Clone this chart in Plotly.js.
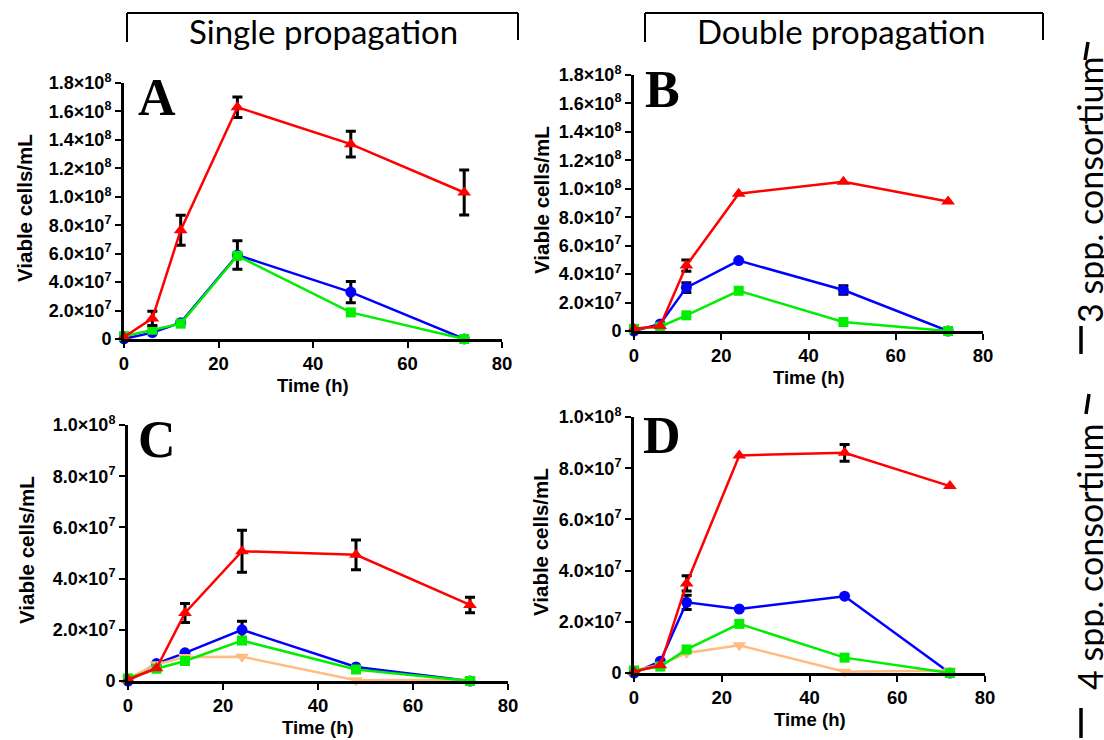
<!DOCTYPE html>
<html>
<head>
<meta charset="utf-8">
<script src="https://cdn.plot.ly/plotly-3.0.1.min.js"></script>
<style>
  html, body { margin: 0; padding: 0; background: #fff; }
  #chart { width: 1104px; height: 740px; }
</style>
</head>
<body>
<div id="chart"></div>
<script>
// Sampling times (h)
const times = [0, 6, 12, 24, 48, 72];

// Y-axis tick values and labels
const tickValsTall = [0, 2e7, 4e7, 6e7, 8e7, 1e8, 1.2e8, 1.4e8, 1.6e8, 1.8e8];
const tickTextTall = ['0', '2.0×10<sup>7</sup>', '4.0×10<sup>7</sup>', '6.0×10<sup>7</sup>',
  '8.0×10<sup>7</sup>', '1.0×10<sup>8</sup>', '1.2×10<sup>8</sup>', '1.4×10<sup>8</sup>',
  '1.6×10<sup>8</sup>', '1.8×10<sup>8</sup>'];
const tickValsShort = [0, 2e7, 4e7, 6e7, 8e7, 1e8];
const tickTextShort = ['0', '2.0×10<sup>7</sup>', '4.0×10<sup>7</sup>', '6.0×10<sup>7</sup>',
  '8.0×10<sup>7</sup>', '1.0×10<sup>8</sup>'];
const xTickVals = [0, 20, 40, 60, 80];

// A: 3 spp., single propagation
const blueA  = [0.01e7, 0.45e7, 1.15e7, 5.9e7, 3.3e7, 0.005e7];
const blueAErr = [null, null, null, 1.0e7, 0.75e7, null];
const greenA = [0.2e7, 0.65e7, 1.08e7, 5.85e7, 1.87e7, 0];
const redA   = [0.15e7, 1.45e7, 7.65e7, 16.3e7, 13.7e7, 10.3e7];
const redAErr = [null, 0.5e7, 1.05e7, 0.72e7, 0.9e7, 1.58e7];

// B: 3 spp., double propagation
const blueB  = [0, 0.5e7, 3.05e7, 4.95e7, 2.88e7, 0];
const blueBErr = [null, null, 0.35e7, null, 0.3e7, null];
const greenB = [0.15e7, 0.3e7, 1.1e7, 2.83e7, 0.63e7, 0];
const redB   = [0.15e7, 0.35e7, 4.6e7, 9.65e7, 10.5e7, 9.1e7];
const redBErr = [null, null, 0.4e7, null, null, null];

// C: 4 spp., single propagation
const blueC   = [0, 0.68e7, 1.1e7, 2.0e7, 0.55e7, 0];
const blueCErr = [null, null, null, 0.33e7, null, null];
const greenC  = [0.1e7, 0.48e7, 0.78e7, 1.58e7, 0.45e7, 0];
const orangeC = [0.1e7, 0.65e7, 0.94e7, 0.95e7, 0.03e7, 0.05e7];
const redC    = [0.05e7, 0.5e7, 2.66e7, 5.07e7, 4.93e7, 2.97e7];
const redCErr = [null, null, 0.37e7, 0.82e7, 0.58e7, 0.3e7];

// D: 4 spp., double propagation
const blueD   = [0, 0.46e7, 2.76e7, 2.5e7, 3.0e7, 0];
const blueDErr = [null, null, 0.28e7, null, null, null];
const greenD  = [0.1e7, 0.25e7, 0.92e7, 1.92e7, 0.6e7, 0];
const orangeD = [0.1e7, 0.32e7, 0.78e7, 1.08e7, 0.05e7, 0.1e7];
const redD    = [0.05e7, 0.3e7, 3.5e7, 8.5e7, 8.6e7, 7.3e7];
const redDErr = [null, null, 0.3e7, null, 0.33e7, null];

// Text
const panelLetters = ['A', 'B', 'C', 'D'];
const headerTexts = ['Single propagation', 'Double propagation'];
const sideTexts = ['3 spp. consortium', '4 spp. consortium'];
const yTitle = 'Viable cells/mL';
const xTitle = 'Time (h)';

// ---- drawing ----
const W = 1104, H = 740;
const fx = px => px / W;
const fy = py => 1 - py / H;

const BLUE = '#0000ff', GREEN = '#00ee00', RED = '#ff0000', ORANGE = '#ffbb80';

// box: [left, right, top, bottom] in px; letter: centre of the panel letter; ytx: y-title x
const panels = [
  { ax: '', box: [124, 502, 83, 339], letter: [157, 98], ytx: 24, ymax: 1.8e8, tv: tickValsTall, tt: tickTextTall,
    series: [[blueA, blueAErr, BLUE, 'circle'], [greenA, null, GREEN, 'square'], [redA, redAErr, RED, 'triangle-up']] },
  { ax: '2', box: [634, 983, 75, 331], letter: [662, 89], ytx: 541, ymax: 1.8e8, tv: tickValsTall, tt: tickTextTall,
    series: [[blueB, blueBErr, BLUE, 'circle'], [greenB, null, GREEN, 'square'], [redB, redBErr, RED, 'triangle-up']] },
  { ax: '3', box: [128, 508, 425, 681], letter: [157, 439], ytx: 26, ymax: 1e8, tv: tickValsShort, tt: tickTextShort,
    series: [[blueC, blueCErr, BLUE, 'circle'], [orangeC, null, ORANGE, 'triangle-down'], [greenC, null, GREEN, 'square'], [redC, redCErr, RED, 'triangle-up']] },
  { ax: '4', box: [634, 985, 417, 673], letter: [662, 435], ytx: 540, ymax: 1e8, tv: tickValsShort, tt: tickTextShort,
    series: [[blueD, blueDErr, BLUE, 'circle'], [orangeD, null, ORANGE, 'triangle-down'], [greenD, null, GREEN, 'square'], [redD, redDErr, RED, 'triangle-up']] }
];

const yTickFont = { family: 'Liberation Sans, Arial, sans-serif', size: 18, color: '#000', weight: 'bold' };
const xTickFont = { family: 'Liberation Sans, Arial, sans-serif', size: 18.5, color: '#000', weight: 'bold' };
const titleFont = { family: 'Liberation Sans, Arial, sans-serif', size: 18.5, color: '#000', weight: 'bold' };

const traces = [];
const layout = {
  width: W, height: H,
  margin: { l: 0, r: 0, t: 0, b: 0 },
  paper_bgcolor: '#fff', plot_bgcolor: 'rgba(0,0,0,0)',
  showlegend: false,
  annotations: [], shapes: []
};

const sizes = { 'circle': 11, 'square': 10, 'triangle-up': 12, 'triangle-down': 12 };

panels.forEach((p, i) => {
  const [l, r, t, b] = p.box;
  layout['xaxis' + p.ax] = {
    domain: [fx(l), fx(r)], range: [0, 80], anchor: 'y' + p.ax,
    tickvals: xTickVals, ticks: 'outside', ticklen: 6, tickwidth: 2, tickcolor: '#000',
    showline: true, linewidth: 3, linecolor: '#000', showgrid: false, zeroline: false,
    tickfont: xTickFont, fixedrange: true
  };
  layout['yaxis' + p.ax] = {
    domain: [fy(b), fy(t)], range: [0, p.ymax], anchor: 'x' + p.ax,
    tickvals: p.tv, ticktext: p.tt, ticks: 'outside', ticklen: 6, tickwidth: 2, tickcolor: '#000',
    showline: true, linewidth: 3, linecolor: '#000', showgrid: false, zeroline: false,
    tickfont: yTickFont, fixedrange: true
  };
  p.series.forEach(([vals, err, color, sym]) => {
    const tr = {
      type: 'scatter', mode: 'lines+markers',
      x: times, y: vals, xaxis: 'x' + p.ax, yaxis: 'y' + p.ax,
      line: { color: color, width: 2.5 },
      marker: { color: color, symbol: sym, size: sizes[sym] },
      cliponaxis: false, hoverinfo: 'skip'
    };
    if (err) {
      tr.error_y = { type: 'data', array: err.map(v => v == null ? NaN : v), visible: true,
        color: '#000', thickness: 3, width: 5 };
    }
    traces.push(tr);
  });
  // axis titles
  layout.annotations.push({
    xref: 'paper', yref: 'paper', x: fx((l + r) / 2), y: fy(b + 46),
    text: xTitle, showarrow: false, font: titleFont, xanchor: 'center', yanchor: 'middle'
  });
  layout.annotations.push({
    xref: 'paper', yref: 'paper', x: fx(p.ytx), y: fy((t + b) / 2 - 3),
    text: yTitle, showarrow: false, font: Object.assign({}, titleFont, { size: 20.5 }),
    textangle: -90, xanchor: 'center', yanchor: 'middle'
  });
  // panel letter
  layout.annotations.push({
    xref: 'paper', yref: 'paper', x: fx(p.letter[0]), y: fy(p.letter[1]),
    text: panelLetters[i], showarrow: false,
    font: { family: 'Liberation Serif, Times New Roman, serif', size: 52, color: '#000', weight: 'bold' },
    xanchor: 'center', yanchor: 'middle'
  });
});

// Column headers with brackets
const headerFont = { family: 'Lato, Open Sans, sans-serif', size: 33, color: '#000' };
[[127, 518, 323], [645, 1043, 841]].forEach(([x0, x1, xc], k) => {
  layout.annotations.push({
    xref: 'paper', yref: 'paper', x: fx(xc), y: fy(31), text: headerTexts[k],
    showarrow: false, font: headerFont, xanchor: 'center', yanchor: 'middle'
  });
  const ln = { color: '#000', width: 2 };
  layout.shapes.push({ type: 'line', xref: 'paper', yref: 'paper', x0: fx(x0), x1: fx(x0), y0: fy(42), y1: fy(13), line: ln });
  layout.shapes.push({ type: 'line', xref: 'paper', yref: 'paper', x0: fx(x0), x1: fx(x1), y0: fy(13), y1: fy(13), line: ln });
  layout.shapes.push({ type: 'line', xref: 'paper', yref: 'paper', x0: fx(x1), x1: fx(x1), y0: fy(13), y1: fy(40), line: ln });
});

// Row labels on the right edge, with the visible ends of their brackets
const sideFont = { family: 'Lato, Open Sans, sans-serif', size: 34, color: '#000' };
[[190], [557]].forEach(([yc], k) => {
  layout.annotations.push({
    xref: 'paper', yref: 'paper', x: fx(1089), y: fy(yc), text: sideTexts[k],
    showarrow: false, font: sideFont, textangle: -90, xanchor: 'center', yanchor: 'middle'
  });
});
[[1088, 42, 1085, 60], [1081, 326, 1081, 354], [1089, 394, 1086, 414], [1081, 708, 1081, 738]].forEach(([x0, y0, x1, y1]) => {
  layout.shapes.push({ type: 'line', xref: 'paper', yref: 'paper', x0: fx(x0), x1: fx(x1), y0: fy(y0), y1: fy(y1),
    line: { color: '#000', width: 3.5 } });
});

Plotly.newPlot('chart', traces, layout, { staticPlot: true, displayModeBar: false });
</script>
</body>
</html>
